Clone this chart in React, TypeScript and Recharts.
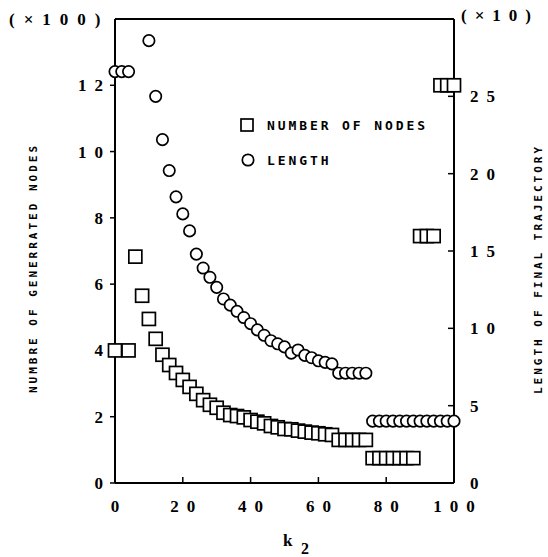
import React from 'react';
import { ScatterChart, Scatter, XAxis, YAxis, ReferenceLine } from 'recharts';

// number of generated nodes (x100), left axis
const nodeK = [0, 4, 6, 8, 10, 12, 14, 16, 18, 20, 22, 24, 26, 28, 30, 32, 34, 36, 38, 40, 42, 44, 46, 48, 50, 52, 54, 56, 58, 60, 62, 64, 66, 68, 70, 72, 74, 76, 78, 80, 82, 84, 86, 88, 90, 92, 94, 96, 98, 100];
const nodeVal = [4.0, 4.0, 6.83, 5.65, 4.95, 4.35, 3.87, 3.56, 3.32, 3.11, 2.9, 2.69, 2.5, 2.36, 2.27, 2.12, 2.05, 2.02, 1.98, 1.9, 1.85, 1.8, 1.72, 1.68, 1.63, 1.62, 1.58, 1.55, 1.52, 1.5, 1.47, 1.45, 1.3, 1.3, 1.3, 1.3, 1.3, 0.75, 0.75, 0.75, 0.75, 0.75, 0.75, 0.75, 7.45, 7.45, 7.45, 12.0, 12.0, 12.0];

// length of final trajectory (x10), right axis
const lengthK = [0, 2, 4, 10, 12, 14, 16, 18, 20, 22, 24, 26, 28, 30, 32, 34, 36, 38, 40, 42, 44, 46, 48, 50, 52, 54, 56, 58, 60, 62, 64, 66, 68, 70, 72, 74, 76, 78, 80, 82, 84, 86, 88, 90, 92, 94, 96, 98, 100];
const lengthVal = [26.6, 26.6, 26.6, 28.6, 25.0, 22.2, 20.2, 18.5, 17.4, 16.3, 14.8, 13.9, 13.3, 12.65, 11.9, 11.5, 11.1, 10.7, 10.3, 9.9, 9.55, 9.2, 9.0, 8.8, 8.4, 8.6, 8.25, 8.1, 7.9, 7.8, 7.7, 7.1, 7.1, 7.1, 7.1, 7.1, 4.0, 4.0, 4.0, 4.0, 4.0, 4.0, 4.0, 4.0, 4.0, 4.0, 4.0, 4.0, 4.0];

const xTicks = [0, 20, 40, 60, 80, 100];
const leftTicks = [0, 2, 4, 6, 8, 10, 12];
const rightTicks = [0, 5, 10, 15, 20, 25];

const nodes = nodeK.map((k, i) => ({ k, v: nodeVal[i] }));
const lengths = lengthK.map((k, i) => ({ k, v: lengthVal[i] }));

const tickFont = '"Liberation Serif", serif';
const labelFont = '"DejaVu Sans Mono", monospace';
const LS = 8;

const Square = (props: any) => (
  <rect x={props.cx - 6.5} y={props.cy - 6.5} width={13} height={13} fill="#fff" stroke="#000" strokeWidth={1.7} />
);
const Circle = (props: any) => (
  <circle cx={props.cx} cy={props.cy} r={5.7} fill="#fff" stroke="#000" strokeWidth={1.7} />
);

const XTick = (props: any) => (
  <text x={props.x + LS / 2} y={props.y} dy="0.71em" textAnchor="middle" fontFamily={tickFont} fontWeight="bold" fontSize={17} letterSpacing={LS} fill="#000">
    {props.payload.value}
  </text>
);
const LeftTick = (props: any) => (
  <text x={props.x + LS} y={props.y} dy="0.355em" textAnchor="end" fontFamily={tickFont} fontWeight="bold" fontSize={17} letterSpacing={LS} fill="#000">
    {props.payload.value}
  </text>
);
const RightTick = (props: any) => (
  <text x={props.x} y={props.y} dy="0.355em" textAnchor="start" fontFamily={tickFont} fontWeight="bold" fontSize={17} letterSpacing={LS} fill="#000">
    {props.payload.value}
  </text>
);

export default function App() {
  return (
    <div style={{ position: 'absolute', left: 0, top: 0, width: 548, height: 557, background: '#fff' }}>
      <ScatterChart width={548} height={557} margin={{ top: 19, right: 0, bottom: 0, left: 0 }}>
        <XAxis
          type="number"
          dataKey="k"
          domain={[0, 100]}
          ticks={xTicks}
          height={74}
          axisLine={{ stroke: '#000', strokeWidth: 2 }}
          tickLine={{ stroke: '#000', strokeWidth: 1.5 }}
          tickSize={-6}
          tickMargin={23}
          tick={<XTick />}
        />
        <YAxis
          yAxisId="left"
          type="number"
          dataKey="v"
          domain={[0, 14]}
          ticks={leftTicks}
          width={115}
          axisLine={{ stroke: '#000', strokeWidth: 2 }}
          tickLine={{ stroke: '#000', strokeWidth: 1.5 }}
          tickSize={5}
          tickMargin={7}
          tick={<LeftTick />}
        />
        <YAxis
          yAxisId="right"
          orientation="right"
          type="number"
          dataKey="v"
          domain={[0, 30]}
          ticks={rightTicks}
          width={94}
          axisLine={{ stroke: '#000', strokeWidth: 2 }}
          tickLine={{ stroke: '#000', strokeWidth: 1.5 }}
          tickSize={-6}
          tickMargin={22}
          tick={<RightTick />}
        />
        <ReferenceLine yAxisId="left" y={14} stroke="#000" strokeWidth={2} />
        <Scatter yAxisId="left" data={nodes} shape={Square} isAnimationActive={false} />
        <Scatter yAxisId="right" data={lengths} shape={Circle} isAnimationActive={false} />
      </ScatterChart>
      <svg width={548} height={557} style={{ position: 'absolute', left: 0, top: 0, pointerEvents: 'none' }}>
        <text x={9} y={19} dy="0.355em" fontFamily={tickFont} fontWeight="bold" fontSize={17} letterSpacing={9} fill="#000">(×100)</text>
        <text x={461} y={15} dy="0.355em" fontFamily={tickFont} fontWeight="bold" fontSize={17} letterSpacing={8} fill="#000">(×10)</text>
        <text x={283} y={540} dy="0.355em" fontFamily={tickFont} fontSize={17} fontWeight="bold" fill="#000">k</text>
        <text x={301} y={548} dy="0.355em" fontFamily={tickFont} fontSize={16} fontWeight="bold" fill="#000">2</text>
        <text transform="translate(33,268) rotate(-90)" textAnchor="middle" dy="0.355em" fontFamily={labelFont} fontWeight="bold" fontSize={11} letterSpacing={3} fill="#000">NUMBRE OF GENERRATED NODES</text>
        <text transform="translate(538,269) rotate(-90)" textAnchor="middle" dy="0.355em" fontFamily={labelFont} fontWeight="bold" fontSize={11} letterSpacing={3} fill="#000">LENGTH OF FINAL TRAJECTORY</text>
        <rect x={241} y={119} width={12} height={12} fill="#fff" stroke="#000" strokeWidth={1.7} />
        <text x={267} y={125} dy="0.355em" fontFamily={labelFont} fontWeight="bold" fontSize={13} letterSpacing={2.9} fill="#000">NUMBER OF NODES</text>
        <circle cx={248} cy={160} r={5.7} fill="#fff" stroke="#000" strokeWidth={1.7} />
        <text x={267} y={160} dy="0.355em" fontFamily={labelFont} fontWeight="bold" fontSize={13} letterSpacing={2.9} fill="#000">LENGTH</text>
      </svg>
    </div>
  );
}
